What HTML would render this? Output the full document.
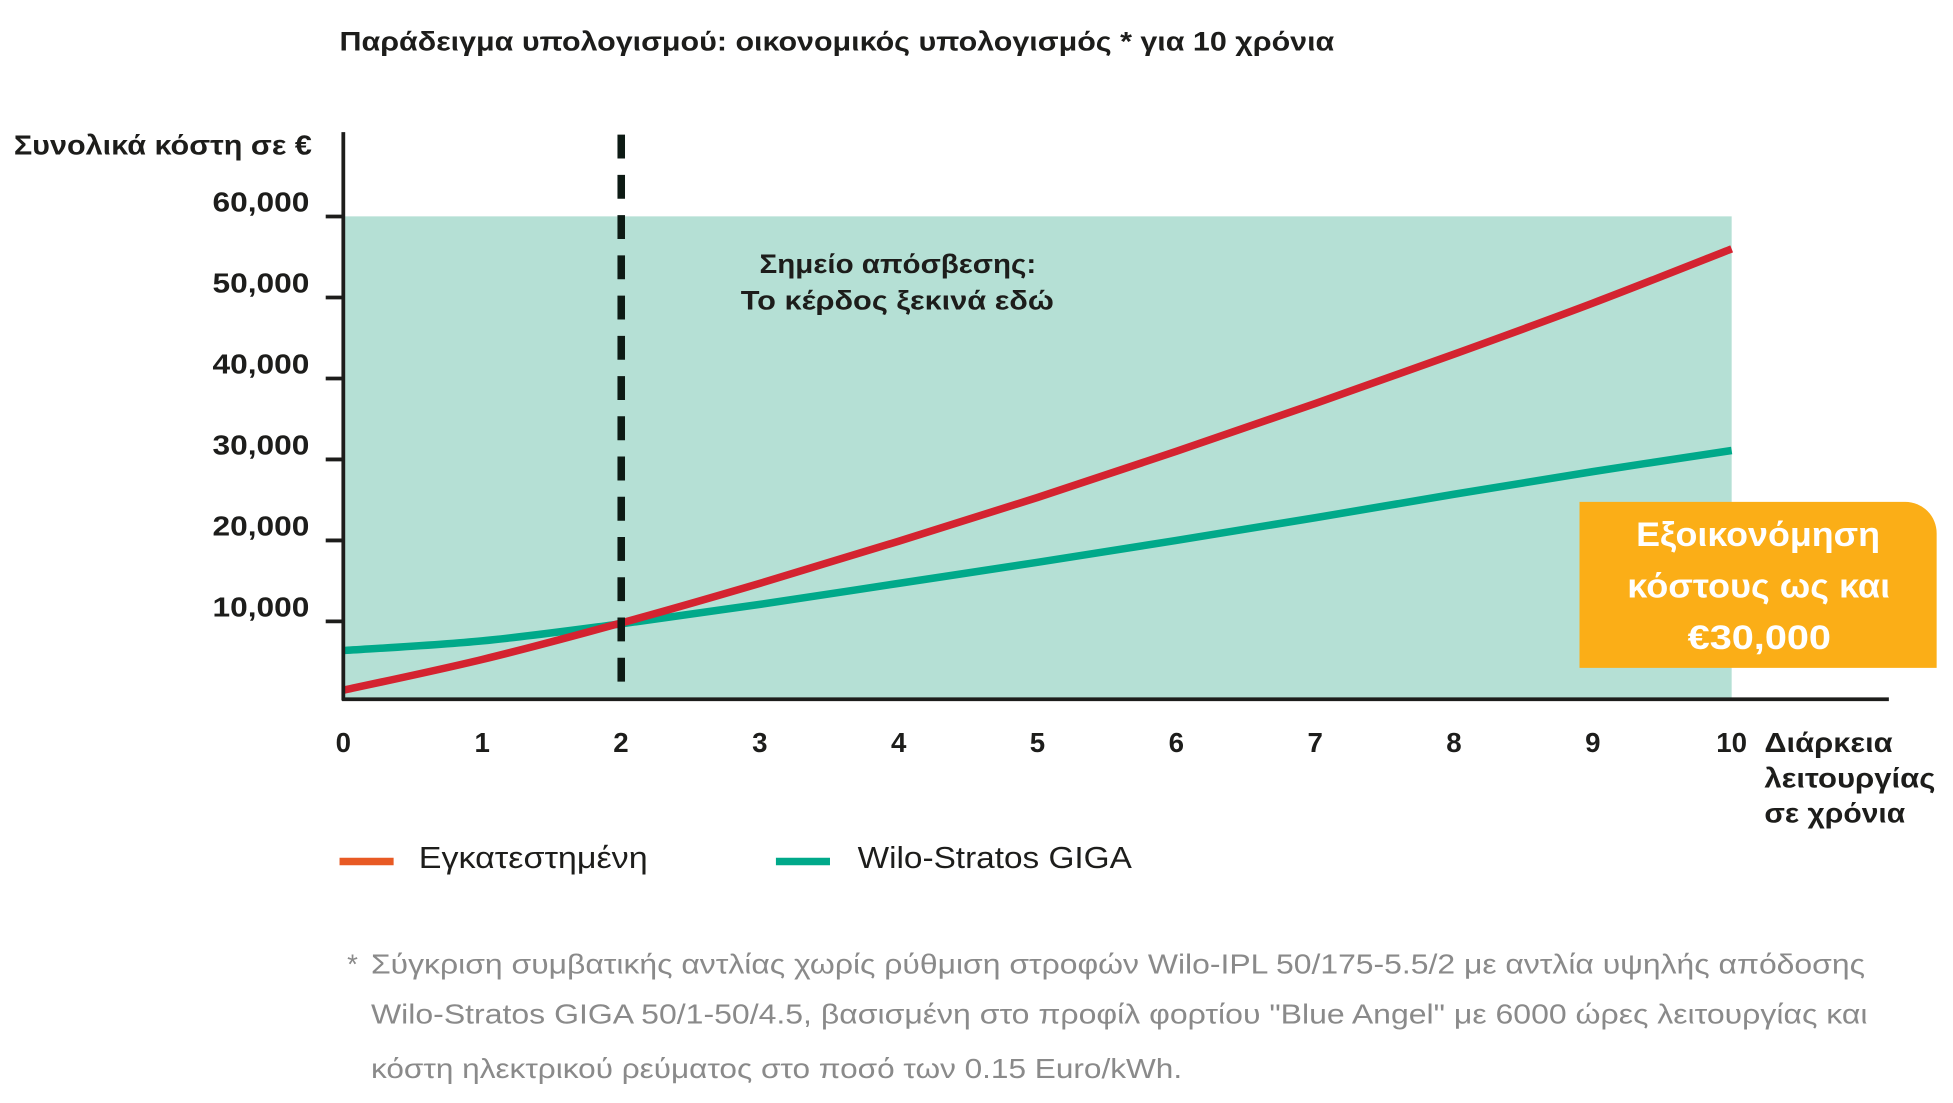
<!DOCTYPE html>
<html><head><meta charset="utf-8"><style>
html,body{margin:0;padding:0;background:#fff}
svg{display:block}
text{font-family:"Liberation Sans","DejaVu Sans",sans-serif}
</style></head><body>
<svg id="chart" width="1953" height="1103" viewBox="0 0 1553 877" xmlns="http://www.w3.org/2000/svg">
<text x="270" y="40" font-size="21" font-weight="bold" fill="#1d1d1b" textLength="791" lengthAdjust="spacingAndGlyphs">Παράδειγμα υπολογισμού: οικονομικός υπολογισμός * για 10 χρόνια</text>
<text x="11" y="123" font-size="22" font-weight="bold" fill="#1d1d1b" textLength="237" lengthAdjust="spacingAndGlyphs">Συνολικά κόστη σε €</text>
<rect x="273" y="172" width="1104" height="384" fill="#b5e0d5"/>
<g id="yticks"></g>
<g id="xticks"></g>
<g id="lines"></g>
<line x1="494" y1="107" x2="494" y2="552" stroke="#0d1a14" stroke-width="6" stroke-dasharray="19,13"/>
<line x1="273" y1="105" x2="273" y2="557" stroke="#1d1d1b" stroke-width="3"/>
<line x1="272" y1="556" x2="1502" y2="556" stroke="#1d1d1b" stroke-width="3"/>
<text font-size="21" font-weight="bold" fill="#1d1d1b"><tspan x="604" y="217" textLength="220" lengthAdjust="spacingAndGlyphs">Σημείο απόσβεσης:</tspan><tspan x="589" y="246" textLength="249" lengthAdjust="spacingAndGlyphs">Το κέρδος ξεκινά εδώ</tspan></text>
<path d="M1256 399 H1515 A25 25 0 0 1 1540 424 V531 H1256 Z" fill="#fbae17"/>
<text font-size="27" font-weight="bold" fill="#fff"><tspan x="1301" y="434" textLength="194" lengthAdjust="spacingAndGlyphs">Εξοικονόμηση</tspan><tspan x="1294" y="475" textLength="209" lengthAdjust="spacingAndGlyphs">κόστους ως και</tspan><tspan x="1342" y="516" textLength="114" lengthAdjust="spacingAndGlyphs">€30,000</tspan></text>
<text font-size="22" font-weight="bold" fill="#1d1d1b"><tspan x="1403" y="598" textLength="102" lengthAdjust="spacingAndGlyphs">Διάρκεια</tspan><tspan x="1403" y="626" textLength="136" lengthAdjust="spacingAndGlyphs">λειτουργίας</tspan><tspan x="1403" y="654" textLength="112" lengthAdjust="spacingAndGlyphs">σε χρόνια</tspan></text>
<line x1="270" y1="685" x2="313" y2="685" stroke="#e85a24" stroke-width="6"/>
<text x="333" y="690" font-size="24" fill="#1d1d1b" textLength="182" lengthAdjust="spacingAndGlyphs">Εγκατεστημένη</text>
<line x1="617" y1="685" x2="660" y2="685" stroke="#00a98a" stroke-width="6"/>
<text x="682" y="690" font-size="24" fill="#1d1d1b" textLength="218" lengthAdjust="spacingAndGlyphs">Wilo-Stratos GIGA</text>
<g font-size="22" fill="#8a8a8a">
<text x="276" y="774">*</text>
<text x="295" y="774" textLength="1188" lengthAdjust="spacingAndGlyphs">Σύγκριση συμβατικής αντλίας χωρίς ρύθμιση στροφών Wilo-IPL 50/175-5.5/2 με αντλία υψηλής απόδοσης</text>
<text x="295" y="814" textLength="1190" lengthAdjust="spacingAndGlyphs">Wilo-Stratos GIGA 50/1-50/4.5, βασισμένη στο προφίλ φορτίου "Blue Angel" με 6000 ώρες λειτουργίας και</text>
<text x="295" y="857" textLength="645" lengthAdjust="spacingAndGlyphs">κόστη ηλεκτρικού ρεύματος στο ποσό των 0.15 Euro/kWh.</text>
</g>
</svg>
<script>
const years = [0,1,2,3,4,5,6,7,8,9,10];
const installedCost = [1500,5300,9800,14700,19900,25300,31000,36900,43000,49300,56000];
const stratosCost = [6400,7600,9700,12100,14700,17300,20000,22800,25700,28500,31100];
const yTickValues = [10000,20000,30000,40000,50000,60000];
const yTickLabels = ["10,000","20,000","30,000","40,000","50,000","60,000"];
const xTickLabels = ["0","1","2","3","4","5","6","7","8","9","10"];
const NS="http://www.w3.org/2000/svg";
function xs(v){return 273+v*110.4;}
function ys(v){return 558.5-v*0.00644;}
function mk(tag,attrs,parent){const e=document.createElementNS(NS,tag);for(const k in attrs)e.setAttribute(k,attrs[k]);parent.appendChild(e);return e;}
const yg=document.getElementById('yticks');
yTickValues.forEach((v,i)=>{
  const t=mk('line',{x1:259,x2:273,y1:ys(v),y2:ys(v),stroke:'#1d1d1b','stroke-width':3},yg);
  
  
  const l=mk('text',{x:169,y:ys(v)-4,'font-size':22,'font-weight':'bold',fill:'#1d1d1b',textLength:77,lengthAdjust:'spacingAndGlyphs'},yg);
  l.textContent=yTickLabels[i];
  
  
});
const xg=document.getElementById('xticks');
years.forEach((v,i)=>{
  const l=mk('text',{x:xs(v),y:598,'font-size':22,'font-weight':'bold',fill:'#1d1d1b','text-anchor':'middle'},xg);
  l.textContent=xTickLabels[i];
  
  
});
function smooth(vals){
  const p=vals.map((v,i)=>[xs(years[i]),ys(v)]);
  let d='M'+p[0][0]+' '+p[0][1];
  for(let i=0;i<p.length-1;i++){
    const p0=p[Math.max(0,i-1)],p1=p[i],p2=p[i+1],p3=p[Math.min(p.length-1,i+2)];
    const c1=[p1[0]+(p2[0]-p0[0])/6,p1[1]+(p2[1]-p0[1])/6];
    const c2=[p2[0]-(p3[0]-p1[0])/6,p2[1]-(p3[1]-p1[1])/6];
    d+=' C'+c1[0]+' '+c1[1]+' '+c2[0]+' '+c2[1]+' '+p2[0]+' '+p2[1];
  }
  return d;
}
const lg=document.getElementById('lines');
const g1=mk('path',{d:smooth(stratosCost),fill:'none',stroke:'#00a98a','stroke-width':6},lg);


const r1=mk('path',{d:smooth(installedCost),fill:'none',stroke:'#d42330','stroke-width':6},lg);


</script>
</body></html>
